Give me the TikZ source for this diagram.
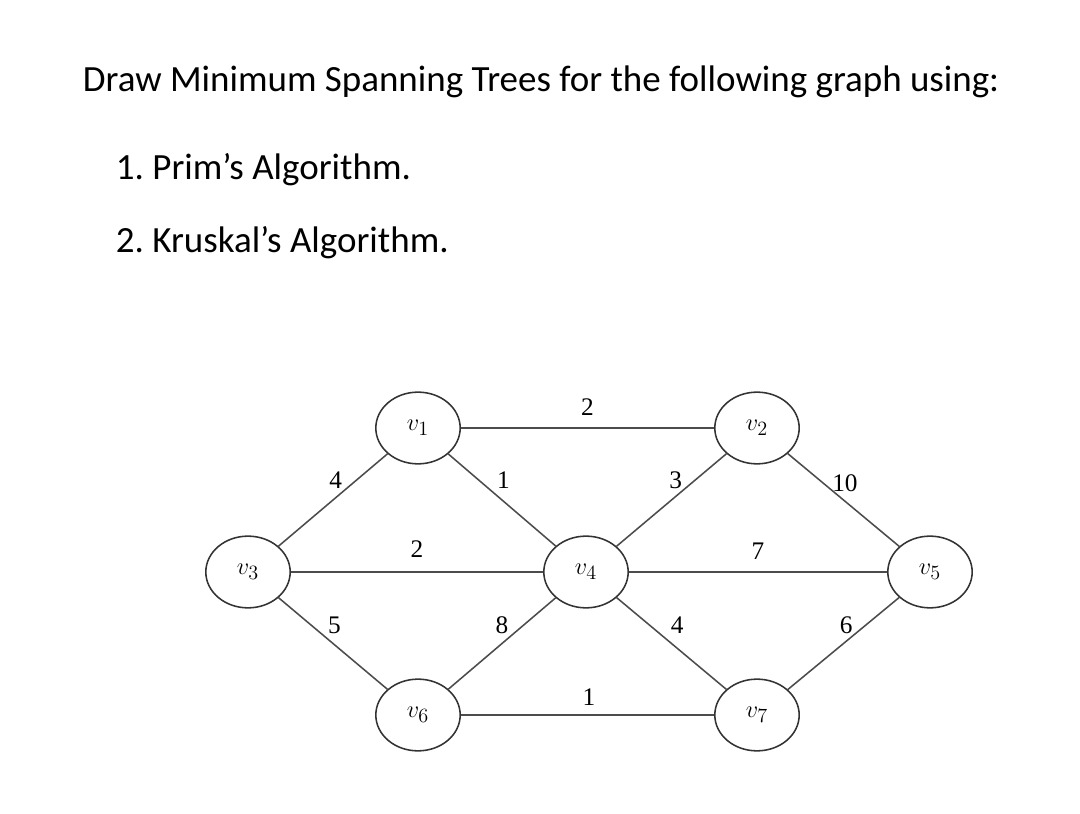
\documentclass[tikz,border=0pt]{standalone}
\usepackage{fontspec}
\setmainfont{Carlito}
\newfontfamily\tnr{Liberation Serif}
\usetikzlibrary{shapes.geometric}

\tikzset{
  vtx/.style={draw=black!80,line width=1.1pt,ellipse,minimum width=60pt,minimum height=51pt,
    inner sep=0pt,font=\fontsize{19}{22}\selectfont},
  edg/.style={draw=black!70,line width=1.1pt},
  wt/.style={midway,font=\tnr\fontsize{18}{20}\selectfont,inner sep=0pt},
  task/.style={anchor=west,font=\fontsize{26.3}{30}\selectfont}
}

\begin{document}
\begin{tikzpicture}[x=0.025cm,y=-0.025cm]
\useasboundingbox (0,0) rectangle (1080,814);

% Task text
\node[task] (head) at (78,82)
  {Draw Minimum Spanning Trees for the following graph using:};
\node[task] (prim) at (111,170) {1.\ Prim’s Algorithm.};
\node[task] (krus) at (111,243) {2.\ Kruskal’s Algorithm.};

% Vertices
\node[vtx] (v1) at (418,428) {$v_1$};
\node[vtx] (v2) at (757,428) {$v_2$};
\node[vtx] (v3) at (248,572) {$v_3$};
\node[vtx] (v4) at (586,572) {$v_4$};
\node[vtx] (v5) at (930,572) {$v_5$};
\node[vtx] (v6) at (418,715) {$v_6$};
\node[vtx] (v7) at (757,715) {$v_7$};

% Weighted edges
\draw[edg] (v1) -- node[wt,yshift=15pt] {2} (v2);
\draw[edg] (v3) -- node[wt,yshift=14pt,xshift=2pt] {4} (v1);
\draw[edg] (v1) -- node[wt,yshift=14pt,xshift=1pt] {1} (v4);
\draw[edg] (v4) -- node[wt,yshift=14pt,xshift=3pt] {3} (v2);
\draw[edg] (v2) -- node[wt,yshift=12pt,xshift=1pt] {10} (v5);
\draw[edg] (v3) -- node[wt,yshift=16pt] {2} (v4);
\draw[edg] (v4) -- node[wt,yshift=15pt] {7} (v5);
\draw[edg] (v3) -- node[wt,yshift=13pt,xshift=1pt] {5} (v6);
\draw[edg] (v6) -- node[wt,yshift=13pt] {8} (v4);
\draw[edg] (v4) -- node[wt,yshift=13pt,xshift=4pt] {4} (v7);
\draw[edg] (v7) -- node[wt,yshift=13pt,xshift=2pt] {6} (v5);
\draw[edg] (v6) -- node[wt,yshift=13pt,xshift=1pt] {1} (v7);

\end{tikzpicture}
\end{document}
